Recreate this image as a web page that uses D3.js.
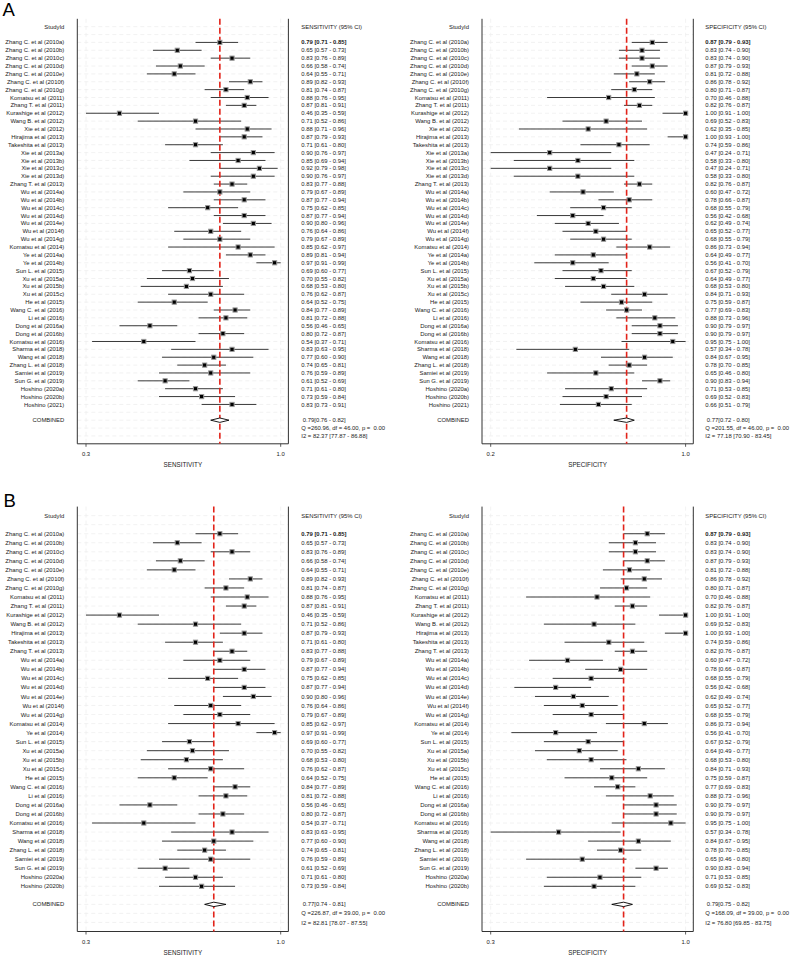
<!DOCTYPE html>
<html><head><meta charset="utf-8">
<script src="https://cdn.jsdelivr.net/npm/d3@7"></script>
<style>body{margin:0;background:#fff}text{font-family:"Liberation Sans",Arial,Helvetica,sans-serif;fill:#1a1a1a}</style>
</head><body>
<script>
// ---------- DATA ----------
const studiesA = ["Zhang C. et al (2010a)","Zhang C. et al (2010b)","Zhang C. et al (2010c)","Zhang C. et al (2010d)","Zhang C. et al (2010e)","Zhang C. et al (2010f)","Zhang C. et al (2010g)","Komatsu et al (2011)","Zhang T. et al (2011)","Kurashige et al (2012)","Wang B. et al (2012)","Xie et al (2012)","Hirajima et al (2013)","Takeshita et al (2013)","Xie et al (2013a)","Xie et al (2013b)","Xie et al (2013c)","Xie et al (2013d)","Zhang T. et al (2013)","Wu et al (2014a)","Wu et al (2014b)","Wu et al (2014c)","Wu et al (2014d)","Wu et al (2014e)","Wu et al (2014f)","Wu et al (2014g)","Komatsu et al (2014)","Ye et al (2014a)","Ye et al (2014b)","Sun L. et al (2015)","Xu et al (2015a)","Xu et al (2015b)","Xu et al (2015c)","He et al (2015)","Wang C. et al (2016)","Li et al (2016)","Dong et al (2016a)","Dong et al (2016b)","Komatsu et al (2016)","Sharma et al (2018)","Wang et al (2018)","Zhang L. et al (2018)","Samiei et al (2019)","Sun G. et al (2019)","Hoshino (2020a)","Hoshino (2020b)","Hoshino (2021)"];
// [estimate, lower, upper]
const sensA = [[0.79,0.71,0.85],[0.65,0.57,0.73],[0.83,0.76,0.89],[0.66,0.58,0.74],[0.64,0.55,0.71],[0.89,0.82,0.93],[0.81,0.74,0.87],[0.88,0.76,0.95],[0.87,0.81,0.91],[0.46,0.35,0.59],[0.71,0.52,0.86],[0.88,0.71,0.96],[0.87,0.79,0.93],[0.71,0.61,0.80],[0.90,0.76,0.97],[0.85,0.69,0.94],[0.92,0.79,0.98],[0.90,0.76,0.97],[0.83,0.77,0.88],[0.79,0.67,0.89],[0.87,0.77,0.94],[0.75,0.62,0.85],[0.87,0.77,0.94],[0.90,0.80,0.96],[0.76,0.64,0.86],[0.79,0.67,0.89],[0.85,0.62,0.97],[0.89,0.81,0.94],[0.97,0.91,0.99],[0.69,0.60,0.77],[0.70,0.55,0.82],[0.68,0.53,0.80],[0.76,0.62,0.87],[0.64,0.52,0.75],[0.84,0.77,0.89],[0.81,0.72,0.88],[0.56,0.46,0.65],[0.80,0.72,0.87],[0.54,0.37,0.71],[0.83,0.63,0.95],[0.77,0.60,0.90],[0.74,0.65,0.81],[0.76,0.59,0.89],[0.61,0.52,0.69],[0.71,0.61,0.80],[0.73,0.59,0.84],[0.83,0.73,0.91]];
const specA = [[0.87,0.79,0.93],[0.83,0.74,0.90],[0.83,0.74,0.90],[0.87,0.79,0.93],[0.81,0.72,0.88],[0.86,0.78,0.92],[0.80,0.71,0.87],[0.70,0.46,0.88],[0.82,0.76,0.87],[1.00,0.91,1.00],[0.69,0.52,0.83],[0.62,0.35,0.85],[1.00,0.93,1.00],[0.74,0.59,0.86],[0.47,0.24,0.71],[0.58,0.33,0.80],[0.47,0.24,0.71],[0.58,0.33,0.80],[0.82,0.76,0.87],[0.60,0.47,0.72],[0.78,0.66,0.87],[0.68,0.55,0.79],[0.56,0.42,0.68],[0.62,0.49,0.74],[0.65,0.52,0.77],[0.68,0.55,0.79],[0.86,0.73,0.94],[0.64,0.49,0.77],[0.56,0.41,0.70],[0.67,0.52,0.79],[0.64,0.49,0.77],[0.68,0.53,0.80],[0.84,0.71,0.93],[0.75,0.59,0.87],[0.77,0.69,0.83],[0.88,0.73,0.96],[0.90,0.79,0.97],[0.90,0.79,0.97],[0.95,0.75,1.00],[0.57,0.34,0.78],[0.84,0.67,0.95],[0.78,0.70,0.85],[0.65,0.46,0.80],[0.90,0.83,0.94],[0.71,0.53,0.85],[0.69,0.52,0.83],[0.66,0.51,0.79]];
const sensAPooled = [0.79,0.76,0.82];
const specAPooled = [0.77,0.72,0.80];
const sensAStats = ["Q =260.96, df = 46.00, p =  0.00","I2 = 82.37 [77.87 - 86.88]"];
const specAStats = ["Q =201.55, df = 46.00, p =  0.00","I2 = 77.18 [70.90 - 83.45]"];

const studiesB = ["Zhang C. et al (2010a)","Zhang C. et al (2010b)","Zhang C. et al (2010c)","Zhang C. et al (2010d)","Zhang C. et al (2010e)","Zhang C. et al (2010f)","Zhang C. et al (2010g)","Komatsu et al (2011)","Zhang T. et al (2011)","Kurashige et al (2012)","Wang B. et al (2012)","Hirajima et al (2013)","Takeshita et al (2013)","Zhang T. et al (2013)","Wu et al (2014a)","Wu et al (2014b)","Wu et al (2014c)","Wu et al (2014d)","Wu et al (2014e)","Wu et al (2014f)","Wu et al (2014g)","Komatsu et al (2014)","Ye et al (2014)","Sun L. et al (2015)","Xu et al (2015a)","Xu et al (2015b)","Xu et al (2015c)","He et al (2015)","Wang C. et al (2016)","Li et al (2016)","Dong et al (2016a)","Dong et al (2016b)","Komatsu et al (2016)","Sharma et al (2018)","Wang et al (2018)","Zhang L. et al (2018)","Samiei et al (2019)","Sun G. et al (2019)","Hoshino (2020a)","Hoshino (2020b)"];
const sensB = [[0.79,0.71,0.85],[0.65,0.57,0.73],[0.83,0.76,0.89],[0.66,0.58,0.74],[0.64,0.55,0.71],[0.89,0.82,0.93],[0.81,0.74,0.87],[0.88,0.76,0.95],[0.87,0.81,0.91],[0.46,0.35,0.59],[0.71,0.52,0.86],[0.87,0.79,0.93],[0.71,0.61,0.80],[0.83,0.77,0.88],[0.79,0.67,0.89],[0.87,0.77,0.94],[0.75,0.62,0.85],[0.87,0.77,0.94],[0.90,0.80,0.96],[0.76,0.64,0.86],[0.79,0.67,0.89],[0.85,0.62,0.97],[0.97,0.91,0.99],[0.69,0.60,0.77],[0.70,0.55,0.82],[0.68,0.53,0.80],[0.76,0.62,0.87],[0.64,0.52,0.75],[0.84,0.77,0.89],[0.81,0.72,0.88],[0.56,0.46,0.65],[0.80,0.72,0.87],[0.54,0.37,0.71],[0.83,0.63,0.95],[0.77,0.60,0.90],[0.74,0.65,0.81],[0.76,0.59,0.89],[0.61,0.52,0.69],[0.71,0.61,0.80],[0.73,0.59,0.84]];
const specB = [[0.87,0.79,0.93],[0.83,0.74,0.90],[0.83,0.74,0.90],[0.87,0.79,0.93],[0.81,0.72,0.88],[0.86,0.78,0.92],[0.80,0.71,0.87],[0.70,0.46,0.88],[0.82,0.76,0.87],[1.00,0.91,1.00],[0.69,0.52,0.83],[1.00,0.93,1.00],[0.74,0.59,0.86],[0.82,0.76,0.87],[0.60,0.47,0.72],[0.78,0.66,0.87],[0.68,0.55,0.79],[0.56,0.42,0.68],[0.62,0.49,0.74],[0.65,0.52,0.77],[0.68,0.55,0.79],[0.86,0.73,0.94],[0.56,0.41,0.70],[0.67,0.52,0.79],[0.64,0.49,0.77],[0.68,0.53,0.80],[0.84,0.71,0.93],[0.75,0.59,0.87],[0.77,0.69,0.83],[0.88,0.73,0.96],[0.90,0.79,0.97],[0.90,0.79,0.97],[0.95,0.75,1.00],[0.57,0.34,0.78],[0.84,0.67,0.95],[0.78,0.70,0.85],[0.65,0.46,0.80],[0.90,0.83,0.94],[0.71,0.53,0.85],[0.69,0.52,0.83]];
const sensBPooled = [0.77,0.74,0.81];
const specBPooled = [0.79,0.75,0.82];
const sensBStats = ["Q =226.87, df = 39.00, p =  0.00","I2 = 82.81 [78.07 - 87.55]"];
const specBStats = ["Q =168.09, df = 39.00, p =  0.00","I2 = 76.80 [69.85 - 83.75]"];

// axis ticks (placed at min lower / max upper CI, labelled rounded)
const sensATicks = [0.35, 0.99], sensATickLabels = ["0.3","1.0"];
const specATicks = [0.24, 1.00], specATickLabels = ["0.2","1.0"];
const sensBTicks = [0.35, 0.99], sensBTickLabels = ["0.3","1.0"];
const specBTicks = [0.34, 1.00], specBTickLabels = ["0.3","1.0"];

// ---------- DRAW ----------
const svg = d3.select("body").append("svg").attr("width",790).attr("height",956);
const f2 = d3.format(".2f");
const FS = 5.9;

function drawForest(g, o) {
  const n = o.names.length;
  const y = d3.scaleLinear().domain([-1, n + 6]).range([o.yTop, o.yBottom]);
  const x = d3.scaleLinear().domain([o.ticks[0], o.ticks[1]]).range(o.xRange);
  const bx0 = o.xRange[0] - 8.7, bx1 = o.xRange[1] + 7.7;
  const yb = y(n + 6), yt = y(-1);

  // faint grid
  const rows = d3.range(0, n + 6);
  g.selectAll(".hg").data(rows).join("line")
    .attr("x1", bx0).attr("x2", bx1).attr("y1", d => y(d)).attr("y2", d => y(d))
    .attr("stroke", "#efefef").attr("stroke-width", 0.8).attr("stroke-dasharray", "4,3");
  g.selectAll(".vg").data(o.ticks).join("line")
    .attr("x1", d => x(d)).attr("x2", d => x(d)).attr("y1", yt).attr("y2", yb)
    .attr("stroke", "#efefef").attr("stroke-width", 0.8).attr("stroke-dasharray", "4,3");

  // frame: left, right, bottom
  g.append("path").attr("d", `M${bx0},${yt}V${yb}H${bx1}V${yt}`)
    .attr("fill", "none").attr("stroke", "#333").attr("stroke-width", 1);

  // ticks
  g.selectAll(".tk").data(o.ticks).join("line")
    .attr("x1", d => x(d)).attr("x2", d => x(d)).attr("y1", yb).attr("y2", yb + 3)
    .attr("stroke", "#333").attr("stroke-width", 0.8);
  g.selectAll(".tl").data(o.ticks).join("text")
    .attr("x", d => x(d)).attr("y", o.tickLabelY).attr("text-anchor", "middle")
    .attr("font-size", FS).text((d, i) => o.tickLabels[i]);
  g.append("text").attr("x", (bx0 + bx1) / 2).attr("y", o.titleY).attr("text-anchor", "middle")
    .attr("font-size", 6.3).text(o.title);

  // headers
  g.append("text").attr("x", o.labelRight).attr("y", y(0)).attr("dy", "0.35em")
    .attr("text-anchor", "end").attr("font-size", FS).text("StudyId");
  g.append("text").attr("x", o.valueX).attr("y", y(0)).attr("dy", "0.35em")
    .attr("font-size", FS).text(o.title + " (95% CI)");

  // study labels
  g.selectAll(".lab").data(o.names).join("text")
    .attr("x", o.labelRight).attr("y", (d, i) => y(i + 2)).attr("dy", "0.35em")
    .attr("text-anchor", "end").attr("font-size", FS).text(d => d);
  // value labels
  g.selectAll(".val").data(o.values).join("text")
    .attr("x", o.valueX).attr("y", (d, i) => y(i + 2)).attr("dy", "0.35em")
    .attr("font-size", FS).attr("font-weight", (d, i) => i === 0 ? "bold" : "normal")
    .text(d => `${f2(d[0])} [${f2(d[1])} - ${f2(d[2])}]`);

  // CI lines
  g.selectAll(".ci").data(o.values).join("line")
    .attr("x1", d => x(d[1])).attr("x2", d => x(d[2]))
    .attr("y1", (d, i) => y(i + 2)).attr("y2", (d, i) => y(i + 2))
    .attr("stroke", "#3a3a3a").attr("stroke-width", 1);
  // red pooled line
  g.append("line").attr("x1", x(o.pooled[0])).attr("x2", x(o.pooled[0]))
    .attr("y1", yt).attr("y2", yb).attr("stroke", "#e2231a").attr("stroke-width", 1.6)
    .attr("stroke-dasharray", "6,3");
  // markers
  const s = 4.2;
  g.selectAll(".pt").data(o.values).join("rect")
    .attr("x", d => x(d[0]) - s / 2).attr("y", (d, i) => y(i + 2) - s / 2)
    .attr("width", s).attr("height", s)
    .attr("fill", "#000").attr("stroke", "#9a9a9a").attr("stroke-width", 1);

  // combined
  const yc = y(n + 3);
  g.append("text").attr("x", o.labelRight).attr("y", yc).attr("dy", "0.35em")
    .attr("text-anchor", "end").attr("font-size", FS).text("COMBINED");
  const p = o.pooled, h = 2.2;
  g.append("path")
    .attr("d", `M${x(p[1])},${yc}L${x(p[0])},${yc - h}L${x(p[2])},${yc}L${x(p[0])},${yc + h}Z`)
    .attr("fill", "#fff").attr("stroke", "#000").attr("stroke-width", 0.9);
  g.append("text").attr("x", o.valueX + 1.5).attr("y", yc).attr("dy", "0.35em")
    .attr("font-size", FS).text(`${f2(p[0])}[${f2(p[1])} - ${f2(p[2])}]`);
  o.stats.forEach((t, k) => {
    g.append("text").attr("x", o.valueX).attr("y", y(n + 4 + k)).attr("dy", "0.35em")
      .attr("font-size", FS).style("white-space", "pre").text(t);
  });
}

const panels = [
  {letter: "A", letterY: 16.3, letterX: 2.5, yTop: 18.8, yBottom: 443.8, tickLabelY: 456.2, titleY: 466.8,
   names: studiesA,
   sens: {values: sensA, pooled: sensAPooled, stats: sensAStats, ticks: sensATicks, tickLabels: sensATickLabels},
   spec: {values: specA, pooled: specAPooled, stats: specAStats, ticks: specATicks, tickLabels: specATickLabels}},
  {letter: "B", letterY: 507.3, letterX: 3.5, yTop: 506.6, yBottom: 931.5, tickLabelY: 943.8, titleY: 955.4,
   names: studiesB,
   sens: {values: sensB, pooled: sensBPooled, stats: sensBStats, ticks: sensBTicks, tickLabels: sensBTickLabels},
   spec: {values: specB, pooled: specBPooled, stats: specBStats, ticks: specBTicks, tickLabels: specBTickLabels}}
];

panels.forEach(P => {
  svg.append("text").attr("x", P.letterX).attr("y", P.letterY)
    .attr("font-size", 18.5).attr("fill", "#000").style("fill", "#000").text(P.letter);
  const common = {names: P.names, yTop: P.yTop, yBottom: P.yBottom, tickLabelY: P.tickLabelY, titleY: P.titleY};
  drawForest(svg.append("g"), Object.assign({}, common, P.sens,
    {title: "SENSITIVITY", xRange: [86, 280.7], labelRight: 64.3, valueX: 301.3}));
  drawForest(svg.append("g"), Object.assign({}, common, P.spec,
    {title: "SPECIFICITY", xRange: [490.7, 685.6], labelRight: 469, valueX: 705.3}));
});
</script>
</body></html>
